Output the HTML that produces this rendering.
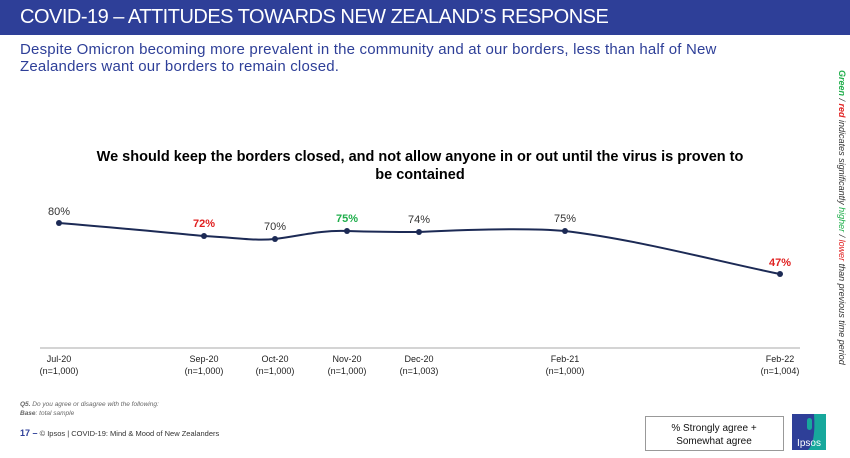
<html><head><style>
body{margin:0;width:850px;height:458px;overflow:hidden;background:#fff;font-family:"Liberation Sans",sans-serif;position:relative}
.hdr{position:absolute;left:0;top:0;width:850px;height:35px;background:#2e3f98;color:#fff;font-size:20px;line-height:35px;padding-left:20px;box-sizing:border-box;letter-spacing:-0.5px}
.sub{position:absolute;left:20px;top:41px;color:#2e3f98;font-size:15px;line-height:17px;width:770px;letter-spacing:0.2px}
.title{position:absolute;left:92px;width:656px;top:148px;text-align:center;font-weight:bold;font-size:14.5px;line-height:18px;color:#000}
.side{position:absolute;left:842px;top:70px;transform-origin:0 0;transform:rotate(90deg);font-size:9px;font-style:italic;color:#333;white-space:nowrap;width:300px}
</style></head><body>
<div class="hdr">COVID-19 – ATTITUDES TOWARDS NEW ZEALAND’S RESPONSE</div>
<div class="sub">Despite Omicron becoming more prevalent in the community and at our borders, less than half of New<br>Zealanders want our borders to remain closed.</div>
<div class="title">We should keep the borders closed, and not allow anyone in or out until the virus is proven to<br>be contained</div>
<div class="side" style="left:847px"><b style="color:#1fae4b">Green</b> / <b style="color:#e02020">red</b> indicates significantly <span style="color:#1fae4b">higher</span> / <span style="color:#e02020">lower</span> than previous time period</div>
<svg width="850" height="458" style="position:absolute;left:0;top:0" font-family="Liberation Sans" >
<line x1="40" y1="348" x2="800" y2="348" stroke="#aaa" stroke-width="1"/>
<path d="M59,223 C120,228 160,232 204,236 C240,238 255,241 275,239 C300,236 320,230 347,231 C380,232 400,232 419,232 C480,229 530,228 565,231 C640,240 720,262 780,274" fill="none" stroke="#1c2a55" stroke-width="2"/>
<g fill="#1c2a55"><circle cx="59" cy="223" r="3"/><circle cx="204" cy="236" r="3"/><circle cx="275" cy="239" r="3"/><circle cx="347" cy="231" r="3"/><circle cx="419" cy="232" r="3"/><circle cx="565" cy="231" r="3"/><circle cx="780" cy="274" r="3"/></g>
<g font-size="11" text-anchor="middle">
<text x="59" y="215" fill="#333">80%</text>
<text x="204" y="227" fill="#e02020" font-weight="bold">72%</text>
<text x="275" y="230" fill="#333">70%</text>
<text x="347" y="222" fill="#1fae4b" font-weight="bold">75%</text>
<text x="419" y="223" fill="#333">74%</text>
<text x="565" y="222" fill="#333">75%</text>
<text x="780" y="266" fill="#e02020" font-weight="bold">47%</text>
</g>
<g font-size="9" text-anchor="middle" fill="#222">
<text x="59" y="362">Jul-20</text><text x="59" y="374">(n=1,000)</text>
<text x="204" y="362">Sep-20</text><text x="204" y="374">(n=1,000)</text>
<text x="275" y="362">Oct-20</text><text x="275" y="374">(n=1,000)</text>
<text x="347" y="362">Nov-20</text><text x="347" y="374">(n=1,000)</text>
<text x="419" y="362">Dec-20</text><text x="419" y="374">(n=1,003)</text>
<text x="565" y="362">Feb-21</text><text x="565" y="374">(n=1,000)</text>
<text x="780" y="362">Feb-22</text><text x="780" y="374">(n=1,004)</text>
</g>
<text x="20" y="406" font-size="6.5" font-style="italic" fill="#666"><tspan font-weight="bold">Q5.</tspan> Do you agree or disagree with the following:</text>
<text x="20" y="415" font-size="6.5" font-style="italic" fill="#666"><tspan font-weight="bold">Base</tspan>: total sample</text>
<text x="20" y="436" font-size="7.5" fill="#333"><tspan font-weight="bold" fill="#2e3f98" font-size="9">17 –</tspan> © Ipsos | COVID-19: Mind &amp; Mood of New Zealanders</text>
<rect x="645.5" y="416.5" width="138" height="34" fill="#fff" stroke="#999"/>
<text x="714" y="431" font-size="10" text-anchor="middle" fill="#111">% Strongly agree +</text>
<text x="714" y="444" font-size="10" text-anchor="middle" fill="#111">Somewhat agree</text>
<rect x="792" y="414" width="34" height="36" fill="#2e3f98"/>
<path d="M814,414 h12 v36 h-18 q8,-8 6,-36z" fill="#17a89c"/>
<rect x="807" y="418" width="5" height="12" rx="2.5" fill="#17a89c"/>
<text x="809" y="446" font-size="10" text-anchor="middle" fill="#fff">Ipsos</text>
</svg>
</body></html>
